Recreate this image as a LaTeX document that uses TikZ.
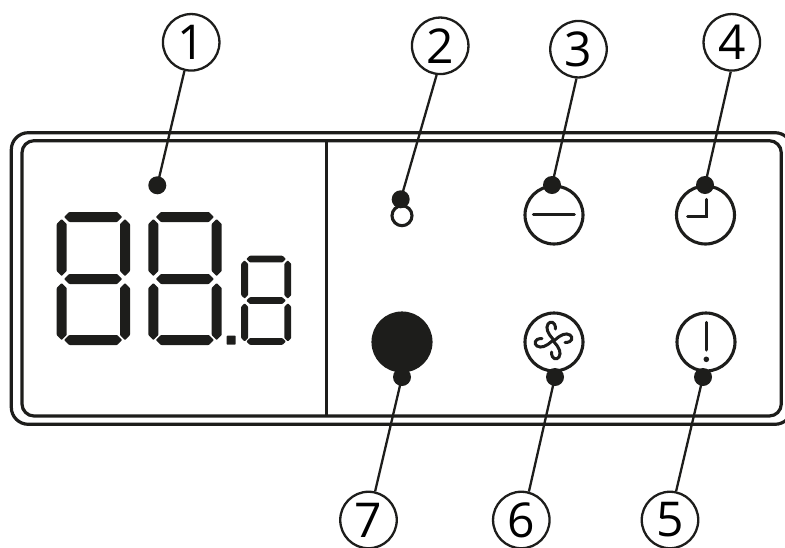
\documentclass[tikz,border=0pt]{standalone}
\usepackage{fontspec}
\setmainfont{Open Sans}
\definecolor{panelblack}{HTML}{1D1D1B}
\tikzset{
  frameline/.style={draw=panelblack,line width=3.2pt},
  iconline/.style={draw=panelblack,line width=3pt,line cap=round},
  segment/.style={fill=panelblack,rounded corners=0.7pt},
  callout/.style={circle,draw=panelblack,line width=2.3pt,fill=white,inner sep=0pt,minimum size=56.5pt,font=\fontsize{48}{48}\selectfont},
  button/.style={circle,draw=panelblack,line width=3.1pt,inner sep=0pt,minimum size=58pt},
  leadDot/.style={circle,fill=panelblack,inner sep=0pt,minimum size=18pt},
  leader/.style={draw=panelblack,line width=2.3pt}
}
\newcommand{\sevenseg}[4]{
  \begin{scope}[shift={(#1,#2)},xscale=#3,yscale=#4]
    \foreach \y in {5,67,128}
      \fill[segment] (7.5,\y) -- (12.5,\y-5) -- (60.5,\y-5) -- (65.5,\y) -- (60.5,\y+5) -- (12.5,\y+5) -- cycle;
    \foreach \x in {5,68.3}
      \foreach \y in {7,71}
        \fill[segment] (\x,\y) -- (\x+5,\y+5) -- (\x+5,\y+52) -- (\x,\y+57) -- (\x-5,\y+52) -- (\x-5,\y+5) -- cycle;
  \end{scope}
}
\begin{document}
\begin{tikzpicture}[x=1pt,y=-1pt]
\useasboundingbox (0,0) rectangle (785,547);
\clip (0,0) rectangle (785,547);
\draw[frameline,rounded corners=17pt] (11.3,132.7) rectangle (792,424.3);
\draw[frameline,rounded corners=12pt] (22,140.7) rectangle (781.3,416);
\draw[frameline,line width=2.6pt] (326.5,140.7) -- (326.5,416);
\sevenseg{56.7}{212}{1}{1}
\sevenseg{148.4}{212}{1}{1}
\sevenseg{241.2}{255.7}{0.682}{0.67}
\fill[segment] (226.7,335.7) rectangle (235.7,344.7);
\node[button,minimum size=20pt] (led) at (402,215.7) {};
\node[button] (minus) at (554,215) {};
\node[button] (clock) at (705.5,215) {};
\node[button] (alarm) at (706,342) {};
\node[button] (fan) at (554,342) {};
\node[button,fill=panelblack] (power) at (402,342) {};
\draw[iconline] (533.3,214.7) -- (574.3,214.7);
\draw[iconline] (706,199.3) -- (706,216.7) -- (687.7,216.7);
\draw[iconline] (706.3,322.3) -- (706.3,350);
\fill[panelblack] (706.3,359.3) circle (2.8pt);
\foreach \r in {0,90,180,270}
  \draw[iconline,rotate around={\r:(553.5,340.5)}] (553.5,339.5) .. controls (547.5,333.5) and (545.5,328) .. (548,324) .. controls (550,321) and (555.5,321) .. (555.5,329);
\node[leadDot] (d1) at (157.3,185.3) {};
\node[leadDot] (d2) at (400.7,199.3) {};
\node[leadDot] (d3) at (552,185) {};
\node[leadDot] (d4) at (705,185) {};
\node[leadDot] (d5) at (703,377) {};
\node[leadDot] (d6) at (555,377) {};
\node[leadDot] (d7) at (402,377) {};
\node[callout] (n1) at (191.2,42.3) {1};
\node[callout] (n2) at (440.2,45.8) {2};
\node[callout] (n3) at (578.5,49.2) {3};
\node[callout] (n4) at (731.8,42.3) {4};
\node[callout] (n5) at (670,520) {5};
\node[callout] (n6) at (521.3,520) {6};
\node[callout] (n7) at (368.5,520) {7};
\draw[leader] (n1) -- (d1.center);
\draw[leader] (n2.263) -- (d2.center);
\draw[leader] (n3.266) -- (d3.center);
\draw[leader] (n4.268) -- (d4.center);
\draw[leader] (n5.78) -- (d5.center);
\draw[leader] (n6.75) -- (d6.center);
\draw[leader] (n7.77) -- (d7.center);
\end{tikzpicture}
\end{document}
